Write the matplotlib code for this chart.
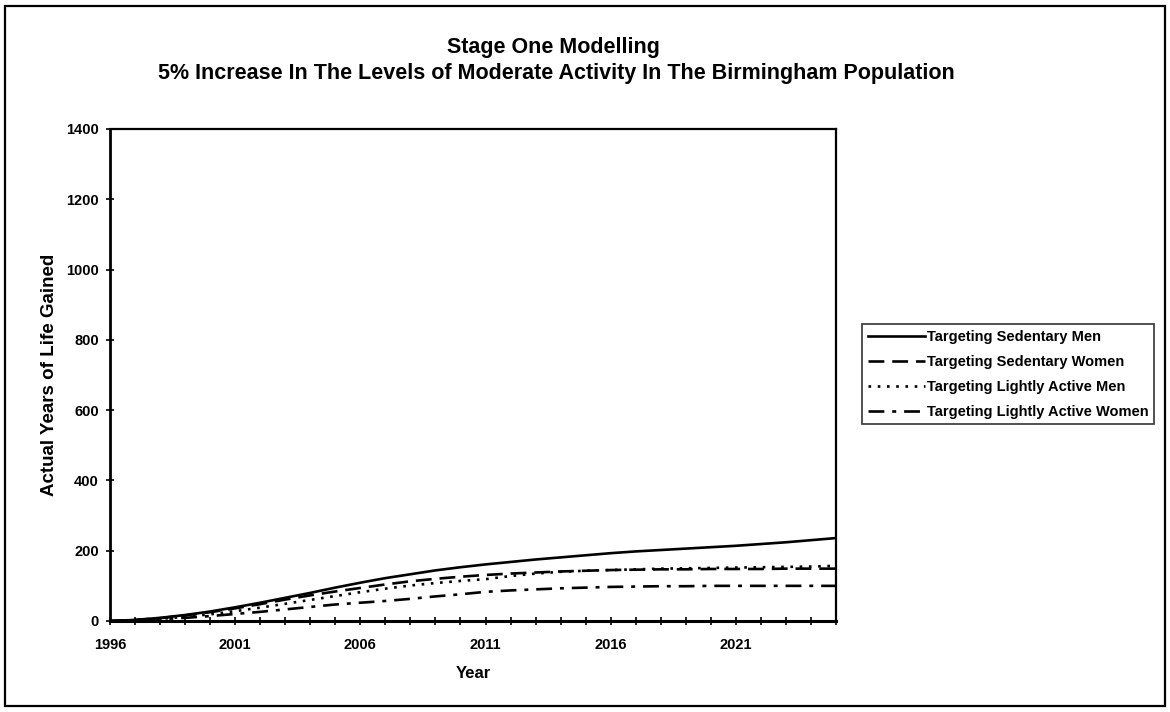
import numpy as np
import matplotlib.pyplot as plt
from matplotlib.patches import Rectangle

plt.rcParams['font.family'] = ['Liberation Sans', 'DejaVu Sans']

# Years and modelled years of life gained
years = list(range(1996, 2026))
sed_men = [0, 3, 9, 17, 27, 39, 52, 66, 80, 95, 109, 122, 133, 144, 153,
           161, 168, 175, 181, 187, 193, 198, 202, 206, 210, 214, 219, 224, 230, 236]
sed_women = [0, 3, 8, 16, 25, 36, 48, 61, 73, 84, 94, 104, 113, 120, 126,
             131, 135, 138, 141, 143, 145, 146, 147, 147, 148, 148, 148, 149, 149, 149]
light_men = [0, 2, 6, 12, 19, 28, 38, 49, 60, 71, 82, 92, 101, 108, 114,
             119, 128, 135, 140, 143, 145, 147, 149, 150, 151, 152, 153, 154, 155, 157]
light_women = [0, 2, 5, 9, 14, 20, 26, 33, 40, 47, 52, 57, 63, 70, 76,
               83, 87, 90, 93, 95, 97, 98, 99, 99, 100, 100, 100, 100, 100, 100]

series_names = ["Targeting Sedentary Men", "Targeting Sedentary Women",
                "Targeting Lightly Active Men", "Targeting Lightly Active Women"]
tick_years = [1996, 2001, 2006, 2011, 2016, 2021]

W, H = 1170, 712
fig = plt.figure(figsize=(W / 100, H / 100), dpi=100)
ax = fig.add_axes([110 / W, 1 - 621 / H, (836 - 110) / W, (621 - 129) / H])

ax.plot(years, sed_men, color="black", lw=1.9, ls="-", label=series_names[0])
ax.plot(years, sed_women, color="black", lw=1.9, ls=(0, (6, 3)), label=series_names[1])
ax.plot(years, light_men, color="black", lw=1.9, ls=(0, (1, 2.5)), label=series_names[2])
ax.plot(years, light_women, color="black", lw=1.9, ls=(0, (6, 3, 1.5, 3)), label=series_names[3])

ax.set_xlim(1996, 2025)
ax.set_ylim(0, 1400)
ax.set_yticks(range(0, 1401, 200))
ax.set_xticks(tick_years)
ax.set_xticks(years, minor=True)
ax.tick_params(axis="both", which="both", direction="inout", length=6, width=1.2)
ax.tick_params(axis="x", which="major", pad=9)
ax.tick_params(axis="y", which="major", pad=5)
for lab in ax.get_xticklabels() + ax.get_yticklabels():
    lab.set_fontsize(10.5)
    lab.set_fontweight("bold")
for s in ax.spines.values():
    s.set_linewidth(1.6)
ax.spines["bottom"].set_linewidth(2.2)
ax.spines["left"].set_linewidth(2.0)

ax.set_xlabel("Year", fontsize=12, fontweight="bold", labelpad=10)
ax.set_ylabel("Actual Years of Life Gained", fontsize=13.5, fontweight="bold", labelpad=6)

fig.text(553 / W, 1 - 47 / H, "Stage One Modelling", ha="center", va="center",
         fontsize=15.5, fontweight="bold")
fig.text(556 / W, 1 - 74 / H,
         "5% Increase In The Levels of Moderate Activity In The Birmingham Population",
         ha="center", va="center", fontsize=15.5, fontweight="bold")

leg = fig.legend(loc="upper left", bbox_to_anchor=(862 / W, 1 - 324 / H),
                 prop={"size": 10.5, "weight": "bold"}, frameon=True, fancybox=False,
                 handlelength=3.9, handletextpad=0.15, borderpad=0.4,
                 labelspacing=0.75, borderaxespad=0)
leg.get_frame().set_edgecolor("black")
leg.get_frame().set_linewidth(1.2)

fig.add_artist(Rectangle((5 / W, 6 / H), (1165 - 5) / W, (706 - 6) / H,
                         transform=fig.transFigure, fill=False, lw=1.6, ec="black"))

fig.savefig("out.png", dpi=100)
